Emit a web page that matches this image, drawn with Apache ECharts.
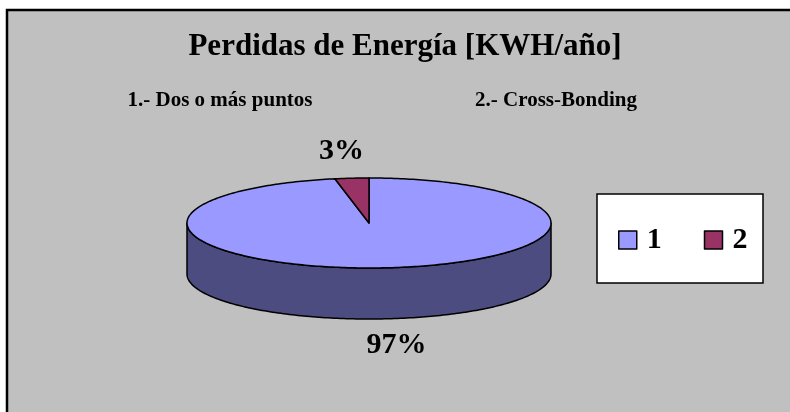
<!DOCTYPE html>
<html>
<head>
<meta charset="utf-8">
<script src="https://cdn.jsdelivr.net/npm/echarts@6/dist/echarts.min.js"></script>
<style>
  html, body { margin: 0; padding: 0; background: #fff; }
  #chart { width: 790px; height: 412px; }
</style>
</head>
<body>
<div id="chart"></div>
<script>
// datos
const categories = ['1', '2'];
const values = [97, 3];
const subtitles = ['1.- Dos o más puntos', '2.- Cross-Bonding'];

const sliceColors = ['#9999FF', '#993366'];
const sideColors = ['#4C4C80', '#4D1A33'];
const serif = '"Liberation Serif", "Times New Roman", serif';

// geometria del pastel 3D
const CX = 369, CY = 223, RX = 182, RY = 45, DEPTH = 51;

const total = values.reduce((a, b) => a + b, 0);

function ptAt(t, dy) {
    return [CX + RX * Math.sin(t), CY - RY * Math.cos(t) + dy];
}

function arc(a, b, dy) {
    const n = Math.max(2, Math.ceil((b - a) / (Math.PI / 180)));
    const pts = [];
    for (let k = 0; k <= n; k++) {
        pts.push(ptAt(a + (b - a) * k / n, dy));
    }
    return pts;
}

function renderItem(params, api) {
    const i = params.dataIndex;
    let start = 0;
    for (let j = 0; j < i; j++) start += values[j];
    const t0 = start / total * Math.PI * 2;
    const t1 = (start + values[i]) / total * Math.PI * 2;
    const children = [];

    // pared frontal visible
    const a = Math.max(t0, Math.PI / 2), b = Math.min(t1, Math.PI * 1.5);
    if (b > a) {
        const pts = arc(a, b, 0).concat(arc(a, b, DEPTH).reverse());
        children.push({
            type: 'polygon',
            shape: { points: pts },
            style: { fill: sideColors[i], stroke: '#000', lineWidth: 1.5, lineJoin: 'round' }
        });
    }

    // cara superior
    children.push({
        type: 'polygon',
        shape: { points: [[CX, CY]].concat(arc(t0, t1, 0)) },
        style: { fill: sliceColors[i], stroke: '#000', lineWidth: 1.5, lineJoin: 'round' }
    });

    // etiqueta de porcentaje
    const mid = (t0 + t1) / 2;
    const kk = 1.6;
    const lx = CX + kk * RX * Math.sin(mid);
    const ly = CY - kk * RY * Math.cos(mid) + (Math.cos(mid) < 0 ? DEPTH : 0);
    children.push({
        type: 'text',
        style: {
            text: Math.round(values[i] / total * 100) + '%',
            x: lx, y: ly,
            align: 'center', verticalAlign: 'middle',
            font: 'bold 30px ' + serif,
            fill: '#000'
        }
    });

    return { type: 'group', children: children };
}

const chart = echarts.init(document.getElementById('chart'));

const option = {
    animation: false,
    backgroundColor: '#fff',
    color: sliceColors,
    graphic: [
        {
            type: 'rect', z: -10,
            shape: { x: 7, y: 10, width: 820, height: 440 },
            style: { fill: '#C0C0C0', stroke: '#000', lineWidth: 2.5 }
        },
        {
            type: 'rect', z: -5,
            shape: { x: 597, y: 194, width: 166, height: 89 },
            style: { fill: '#fff', stroke: '#000', lineWidth: 1.5 }
        }
    ],
    title: [
        {
            text: 'Perdidas de Energía [KWH/año]',
            left: 405, top: 31, textAlign: 'center', padding: 0,
            textStyle: { fontFamily: serif, fontWeight: 'bold', fontSize: 31, color: '#000' }
        },
        {
            text: subtitles[0],
            left: 220, top: 90, textAlign: 'center', padding: 0,
            textStyle: { fontFamily: serif, fontWeight: 'bold', fontSize: 21, color: '#000' }
        },
        {
            text: subtitles[1],
            left: 556, top: 90, textAlign: 'center', padding: 0,
            textStyle: { fontFamily: serif, fontWeight: 'bold', fontSize: 21, color: '#000' }
        }
    ],
    legend: {
        data: categories,
        left: 618, top: 225, padding: 0,
        icon: 'rect',
        itemWidth: 18, itemHeight: 18, itemGap: 42,
        itemStyle: { borderColor: '#000', borderWidth: 1.5 },
        textStyle: { fontFamily: serif, fontWeight: 'bold', fontSize: 30, color: '#000', padding: [0, 0, 0, 5] },
        selectedMode: false
    },
    series: [
        {
            type: 'custom',
            coordinateSystem: 'none',
            renderItem: renderItem,
            data: values.map((v, i) => ({ name: categories[i], value: v })),
            silent: true
        },
        {
            // solo para la leyenda
            type: 'pie',
            radius: [0, 0],
            center: [-50, -50],
            label: { show: false },
            labelLine: { show: false },
            silent: true,
            data: values.map((v, i) => ({ name: categories[i], value: v }))
        }
    ]
};

chart.setOption(option);
</script>
</body>
</html>
